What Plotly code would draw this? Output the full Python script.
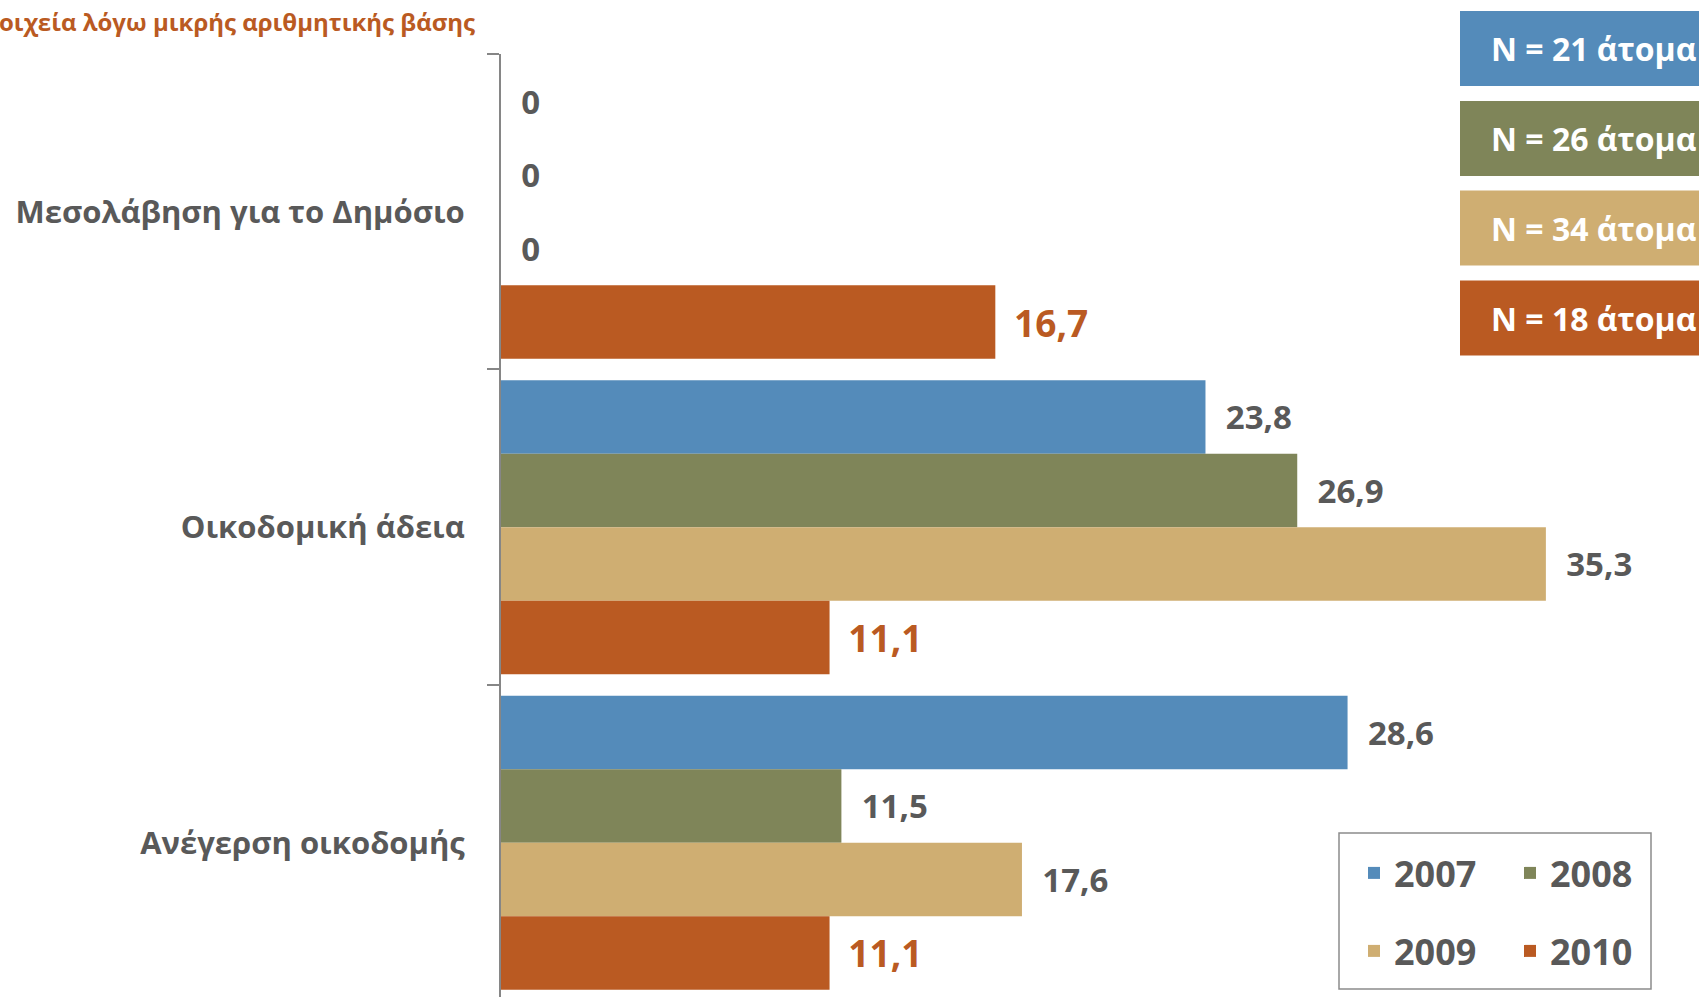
import plotly.graph_objects as go

# ---- data ----
categories = ["Μεσολάβηση για το Δημόσιο", "Οικοδομική άδεια", "Ανέγερση οικοδομής"]
years = ["2007", "2008", "2009", "2010"]
values_2007 = [0, 23.8, 28.6]
values_2008 = [0, 26.9, 11.5]
values_2009 = [0, 35.3, 17.6]
values_2010 = [16.7, 11.1, 11.1]
sample_sizes = ["N = 21 άτομα", "N = 26 άτομα", "N = 34 άτομα", "N = 18 άτομα"]
note_text = "οιχεία λόγω μικρής αριθμητικής βάσης"

series = [values_2007, values_2008, values_2009, values_2010]
colors = ["#548BBA", "#7F8559", "#CFAE72", "#BA5A22"]
GRAY = "#595959"
FONT = "Open Sans"

W, H = 1699, 997
L, T = 501, 54
PW, PH = W - L, H - T


def px_x(p):
    return (p - L) / PW


def px_y(p):
    return (H - p) / PH


def fmt(v):
    return "0" if v == 0 else f"{v:.1f}".replace(".", ",")


fig = go.Figure()
for i, (yr, vals, col) in enumerate(zip(years, series, colors)):
    is_last = yr == "2010"
    pad = "\u00a0\u2009\u200a" if not is_last else "\u00a0\u2009"
    fig.add_trace(go.Bar(
        name=yr,
        y=categories,
        x=vals,
        orientation="h",
        marker=dict(color=col, line=dict(width=0)),
        text=[pad + fmt(v) for v in vals],
        textposition="outside",
        cliponaxis=False,
        constraintext="none",
        textfont=dict(family=FONT, size=37 if is_last else 33, weight="bold",
                      color=col if is_last else GRAY),
        legend="legend" if i < 2 else "legend2",
        hoverinfo="skip",
    ))

legend_common = dict(
    orientation="h", xref="paper", yref="paper",
    xanchor="left", yanchor="middle",
    entrywidth=111, entrywidthmode="pixels",
    font=dict(family=FONT, size=36, weight="bold", color=GRAY),
    bgcolor="rgba(0,0,0,0)", borderwidth=0,
)

fig.update_layout(
    width=W, height=H,
    margin=dict(l=L, r=0, t=T, b=0, autoexpand=False),
    paper_bgcolor="white", plot_bgcolor="white",
    barmode="group", bargap=0.068, bargroupgap=0,
    font=dict(family=FONT, color=GRAY),
    xaxis=dict(range=[0, PW / 29.6], visible=False, showgrid=False, zeroline=False),
    yaxis=dict(
        type="category", range=[2.489, -0.5],
        showline=True, linecolor="#868686", linewidth=2,
        ticks="outside", tickson="boundaries", ticklen=12, tickwidth=2, tickcolor="#868686",
        tickfont=dict(family=FONT, size=31, weight="bold", color=GRAY),
        ticklabelstandoff=28, showgrid=False, zeroline=False,
    ),
    legend=dict(legend_common, x=px_x(1354), y=px_y(873)),
    legend2=dict(legend_common, x=px_x(1354), y=px_y(951)),
)

# legend frame
fig.add_shape(type="rect", xref="paper", yref="paper",
              x0=px_x(1339), x1=px_x(1651), y0=px_y(989), y1=px_y(833),
              line=dict(color="#8C8C8C", width=1.5), fillcolor="rgba(0,0,0,0)")

# sample size boxes
box_tops = [11, 101, 190.5, 280.5]
box_h = 75
for txt, col, top in zip(sample_sizes, colors, box_tops):
    fig.add_shape(type="rect", xref="paper", yref="paper",
                  x0=px_x(1460), x1=1.01, y0=px_y(top + box_h), y1=px_y(top),
                  line=dict(width=0), fillcolor=col, layer="above")
    fig.add_annotation(xref="paper", yref="paper", x=px_x(1489), y=px_y(top + box_h / 2),
                       xanchor="left", yanchor="middle", showarrow=False, text=txt,
                       font=dict(family=FONT, size=32, weight="bold", color="white"))

# note at top-left
fig.add_annotation(xref="paper", yref="paper", x=px_x(-3), y=px_y(22),
                   xanchor="left", yanchor="middle", showarrow=False, text=note_text,
                   font=dict(family=FONT, size=24, weight="bold", color="#BA5A22"))

fig.write_html("out.html", config={"displayModeBar": False},
               post_script="document.body.style.margin='0';")
